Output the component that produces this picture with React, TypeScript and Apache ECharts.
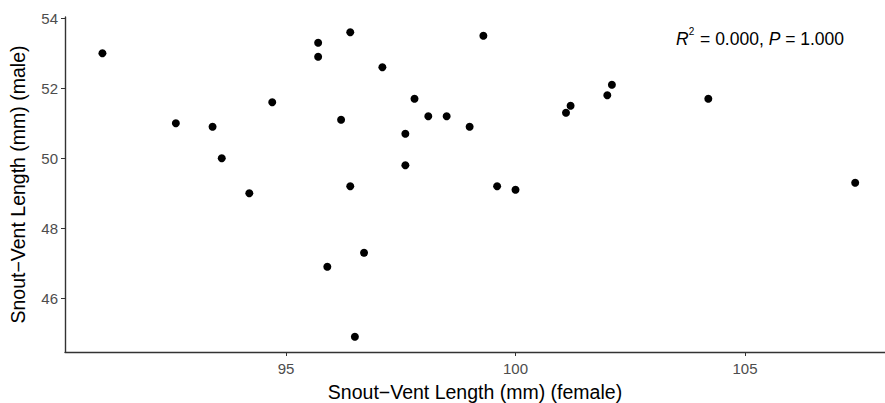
import React, { useEffect, useRef } from "react";
import * as echarts from "echarts";

const femaleSVL: number[] = [
  91.0, 92.6, 93.4, 93.6, 94.2, 94.7, 95.7, 95.7, 95.9, 96.2,
  96.4, 96.4, 96.5, 96.7, 97.1, 97.6, 97.6, 97.8, 98.1, 98.5,
  99.0, 99.3, 99.6, 100.0, 101.1, 101.2, 102.0, 102.1, 104.2, 107.4,
];
const maleSVL: number[] = [
  53.0, 51.0, 50.9, 50.0, 49.0, 51.6, 53.3, 52.9, 46.9, 51.1,
  53.6, 49.2, 44.9, 47.3, 52.6, 50.7, 49.8, 51.7, 51.2, 51.2,
  50.9, 53.5, 49.2, 49.1, 51.3, 51.5, 51.8, 52.1, 51.7, 49.3,
];
const xTicks: number[] = [95, 100, 105];
const yTicks: number[] = [46, 48, 50, 52, 54];
const xTitle = "Snout\u2212Vent Length (mm) (female)";
const yTitle = "Snout\u2212Vent Length (mm) (male)";

const FONT = "'Liberation Sans', Arial, Helvetica, sans-serif";

export default function App() {
  const ref = useRef<HTMLDivElement>(null);
  useEffect(() => {
    if (!ref.current) return;
    const chart = echarts.init(ref.current, undefined, { renderer: "svg" });
    const points = femaleSVL.map((x, i) => [x, maleSVL[i]]);
    const axisCommon = {
      axisLine: { show: true, lineStyle: { color: "#333", width: 1.4 } },
      splitLine: { show: false },
      nameLocation: "middle" as const,
      nameMoveOverlap: false,
      nameTextStyle: { fontFamily: FONT, fontSize: 19.5, color: "#000" },
    };
    chart.setOption({
      animation: false,
      backgroundColor: "#fff",
      grid: { left: 65, right: 0, top: 17, bottom: 51, containLabel: false, outerBoundsMode: "none" },
      xAxis: {
        type: "value",
        min: 90.185,
        max: 108.05,
        name: xTitle,
        nameGap: 30,
        ...axisCommon,
        axisTick: { show: true, length: 4, lineStyle: { color: "#333" }, customValues: xTicks },
        axisLabel: { show: true, customValues: xTicks, fontFamily: FONT, fontSize: 15, color: "#4d4d4d", margin: 9 },
      },
      yAxis: {
        type: "value",
        min: 44.465,
        max: 54.035,
        name: yTitle,
        nameGap: 37,
        ...axisCommon,
        axisTick: { show: true, length: 4, lineStyle: { color: "#333" }, customValues: yTicks },
        axisLabel: { show: true, customValues: yTicks, fontFamily: FONT, fontSize: 15, color: "#4d4d4d", margin: 7 },
      },
      series: [
        {
          type: "scatter",
          data: points,
          symbol: "circle",
          symbolSize: 8,
          itemStyle: { color: "#000", opacity: 1 },
        },
      ],
      graphic: [
        {
          type: "text",
          left: 676,
          top: 26,
          style: {
            text: "{i|R}{s|2}{n| = 0.000, }{i|P}{n| = 1.000}",
            rich: {
              i: { fontFamily: FONT, fontSize: 17.5, fontStyle: "italic", color: "#000", lineHeight: 22, verticalAlign: "bottom" },
              s: { fontFamily: FONT, fontSize: 10, color: "#000", lineHeight: 22, verticalAlign: "top", padding: [0, 1, 0, 0] },
              n: { fontFamily: FONT, fontSize: 17.5, color: "#000", lineHeight: 22, verticalAlign: "bottom" },
            },
          },
        },
      ],
    });
    return () => chart.dispose();
  }, []);
  return (
    <div
      ref={ref}
      style={{ position: "fixed", left: 0, top: 0, width: 885, height: 403, background: "#fff" }}
    />
  );
}
